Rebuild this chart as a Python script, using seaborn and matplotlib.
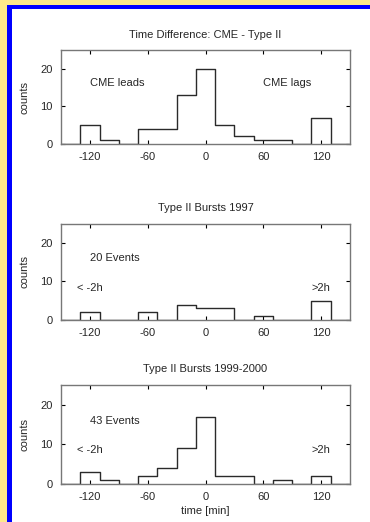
"""Histograms of CME / Type II burst time differences."""

import matplotlib

matplotlib.use("Agg")
import matplotlib.pyplot as plt
from matplotlib.patches import Rectangle
import pandas as pd
import seaborn as sns


BIN_CENTERS = [-120, -100, -80, -60, -40, -20, 0, 20, 40, 60, 80, 100, 120]
COUNTS_ALL = [5, 1, 0, 4, 4, 13, 20, 5, 2, 1, 1, 0, 7]
COUNTS_1997 = [2, 0, 0, 2, 0, 4, 3, 3, 0, 1, 0, 0, 5]
COUNTS_1999 = [3, 1, 0, 2, 4, 9, 17, 2, 2, 0, 1, 0, 2]
TITLES = ["Time Difference: CME - Type II", "Type II Bursts 1997", "Type II Bursts 1999-2000"]
X_TICKS = [-120, -60, 0, 60, 120]
Y_TICKS = [0, 10, 20]
NOTES = [
    [("CME leads", -120, 16.3, "left"), ("CME lags", 60, 16.3, "left")],
    [("20 Events", -120, 16, "left"), ("< -2h", -120, 8.4, "center"), (">2h", 120, 8.4, "center")],
    [("43 Events", -120, 16, "left"), ("< -2h", -120, 8.6, "center"), (">2h", 120, 8.6, "center")],
]

W, H = 370, 522
# axes boxes in pixels: left, top, right, bottom
BOXES = [(61, 50, 350, 144), (61, 223.5, 350, 320), (61, 385, 350, 484)]

sns.set_style("white")
plt.rcParams["font.family"] = ["Liberation Sans", "DejaVu Sans"]
plt.rcParams["font.size"] = 8
plt.rcParams["axes.unicode_minus"] = False

fig = plt.figure(figsize=(W / 100, H / 100), dpi=100)
fig.patch.set_facecolor("#fde98a")
fig.add_artist(Rectangle((7 / W, 0), 1, 1 - 5 / H, transform=fig.transFigure,
                         facecolor="#0000ff", edgecolor="none", zorder=-3))
fig.add_artist(Rectangle((12 / W, 0), 1, 1 - 9 / H, transform=fig.transFigure,
                         facecolor="white", edgecolor="none", zorder=-2))

for i, counts in enumerate([COUNTS_ALL, COUNTS_1997, COUNTS_1999]):
    l, t, r, b = BOXES[i]
    ax = fig.add_axes([l / W, 1 - b / H, (r - l) / W, (b - t) / H])
    ax.set_facecolor("none")
    df = pd.DataFrame({"time": BIN_CENTERS, "counts": counts})
    sns.histplot(data=df, x="time", weights="counts", binrange=(-150, 150), binwidth=20,
                 element="step", fill=False, color="#2a2a2a", linewidth=1.0, ax=ax)
    ax.set_xlim(-150, 150)
    ax.set_ylim(0, 25)
    ax.set_xticks(X_TICKS)
    ax.set_yticks(Y_TICKS)
    ax.tick_params(direction="in", bottom=True, left=True, top=True, right=True,
                   length=3, width=0.8, color="black", labelsize=8, pad=6)
    for s in ax.spines.values():
        s.set_color("#777777")
        s.set_linewidth(1.0)
    ax.set_title(TITLES[i], fontsize=8, pad=9)
    ax.set_ylabel("counts", fontsize=8, labelpad=8)
    ax.set_xlabel("time [min]" if i == 2 else "", fontsize=8, labelpad=3)
    for text, x, y, ha in NOTES[i]:
        ax.text(x, y, text, ha=ha, va="center", fontsize=8)

fig.savefig("out.png", dpi=100)
